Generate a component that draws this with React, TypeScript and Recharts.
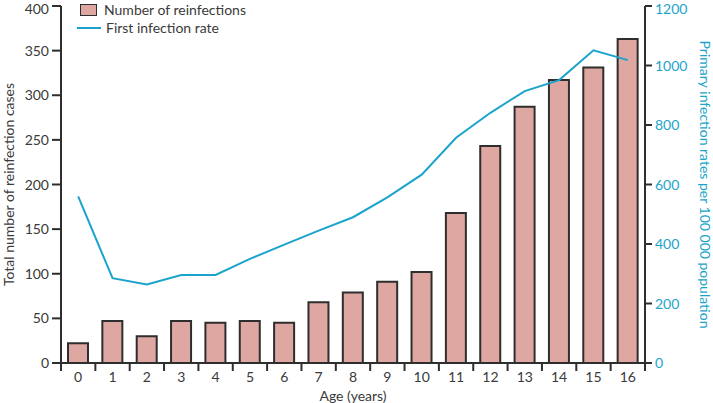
import {
  ComposedChart, Bar, Line, XAxis, YAxis, Legend,
} from 'recharts'

const ages = ['0', '1', '2', '3', '4', '5', '6', '7', '8', '9', '10', '11', '12', '13', '14', '15', '16']
const reinfections = [22, 47, 30, 47, 45, 47, 45, 68, 79, 91, 102, 168, 243, 287, 317, 331, 363]
const firstRate = [560, 285, 264, 296, 296, 350, 398, 445, 490, 557, 633, 757, 841, 914, 951, 1051, 1018]
const leftTicks = [0, 50, 100, 150, 200, 250, 300, 350, 400]
const rightTicks = [0, 200, 400, 600, 800, 1000, 1200]

const data = ages.map((a, i) => ({ age: a, reinf: reinfections[i], rate: firstRate[i] }))

const BAR = '#dfa7a1'
const EDGE = '#2e2e2e'
const CYAN = '#1ba4cb'
const TEXT = '#3a3a3a'
const BAND = 584 / ages.length

function AgeTick(props: any) {
  const { x, y, payload, index } = props
  const top = y - 10
  return (
    <g>
      <line x1={x - BAND / 2} x2={x - BAND / 2} y1={top} y2={top + 8} stroke={EDGE} strokeWidth={2} />
      {index === ages.length - 1 && (
        <line x1={x + BAND / 2} x2={x + BAND / 2} y1={top} y2={top + 8} stroke={EDGE} strokeWidth={2} />
      )}
      <text x={x} y={y + 9} textAnchor="middle" fill={TEXT} fontSize={14}>{payload.value}</text>
    </g>
  )
}

// top labels sit a little lower than their ticks so they stay on the page
function CountTick(props: any) {
  const { x, y, payload } = props
  return (
    <text x={x} y={Math.max(y, 9)} dy={5} textAnchor="end" fill={TEXT} fontSize={14}>{payload.value}</text>
  )
}

function RateTick(props: any) {
  const { x, y, payload } = props
  return (
    <text x={x} y={Math.max(y, 9)} dy={5} textAnchor="start" fill={CYAN} fontSize={14}>{payload.value}</text>
  )
}

function LegendBox() {
  return (
    <div style={{ fontSize: 14, color: TEXT, lineHeight: '18px' }}>
      <div style={{ display: 'flex', alignItems: 'center' }}>
        <span style={{ display: 'inline-block', width: 15, height: 10, background: BAR, border: `1.5px solid ${EDGE}`, marginLeft: 3, marginRight: 7 }} />
        Number of reinfections
      </div>
      <div style={{ display: 'flex', alignItems: 'center' }}>
        <span style={{ display: 'inline-block', width: 24, height: 2, background: CYAN, marginRight: 5 }} />
        First infection rate
      </div>
    </div>
  )
}

export default function App() {
  return (
    <div style={{ position: 'absolute', left: 0, top: 0, fontFamily: 'Lato, sans-serif' }}>
      <ComposedChart width={713} height={403} data={data} margin={{ top: 6, right: 0, bottom: 0, left: 0 }}>
        <XAxis
          dataKey="age" height={40} tickLine={false} tickSize={8} tickMargin={2}
          axisLine={{ stroke: EDGE, strokeWidth: 2 }} tick={<AgeTick />} interval={0}
          label={{ value: 'Age (years)', position: 'insideBottom', offset: 2, fill: TEXT, fontSize: 14 }}
        />
        <YAxis
          yAxisId="l" width={61} domain={[0, 400]} ticks={leftTicks} interval={0}
          tickSize={9} tickMargin={3} tickLine={{ stroke: EDGE, strokeWidth: 2 }}
          axisLine={{ stroke: EDGE, strokeWidth: 2 }} tick={<CountTick />}
          label={{ value: 'Total number of reinfection cases', angle: -90, position: 'insideLeft', offset: 9, fill: TEXT, fontSize: 14, style: { textAnchor: 'middle' } }}
        />
        <YAxis
          yAxisId="r" orientation="right" width={68} domain={[0, 1200]} ticks={rightTicks} interval={0}
          tickSize={7} tickMargin={3} tickLine={{ stroke: EDGE, strokeWidth: 2 }}
          axisLine={{ stroke: EDGE, strokeWidth: 2 }} tick={<RateTick />}
          label={{ value: 'Primary infection rates per 100 000 population', angle: 90, position: 'insideRight', offset: 8, fill: CYAN, fontSize: 14, style: { textAnchor: 'middle' } }}
        />
        <Legend
          layout="vertical" align="center" verticalAlign="middle"
          wrapperStyle={{ position: 'absolute', top: 1, left: 77, width: 'auto' }}
          content={() => <LegendBox />}
        />
        <Bar yAxisId="l" dataKey="reinf" barSize={20} fill={BAR} stroke={EDGE} strokeWidth={2} isAnimationActive={false} />
        <Line yAxisId="r" dataKey="rate" type="linear" stroke={CYAN} strokeWidth={2} dot={false} isAnimationActive={false} />
      </ComposedChart>
    </div>
  )
}
